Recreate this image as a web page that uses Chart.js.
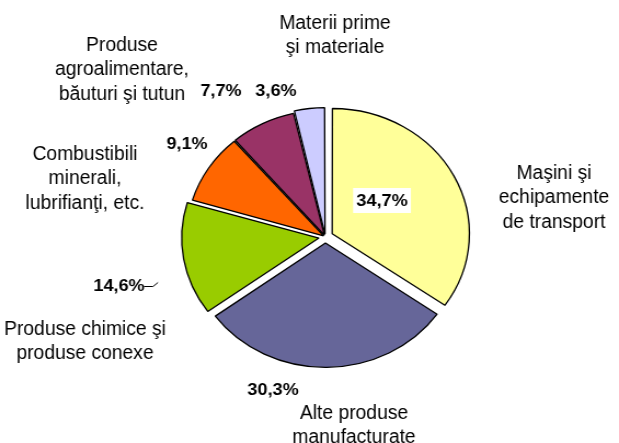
<!DOCTYPE html>
<html>
<head>
<meta charset="utf-8">
<script src="https://cdn.jsdelivr.net/npm/chart.js@4/dist/chart.umd.min.js"></script>
<style>
  html, body { margin: 0; padding: 0; background: #fff; overflow: hidden; }
  #grafic { display: block; }
</style>
</head>
<body>
<canvas id="grafic" width="565" height="443" style="width:619px;height:443px"></canvas>
<script>
// Date
const categorii = [
    ['Maşini şi', 'echipamente', 'de transport'],
    ['Alte produse', 'manufacturate'],
    ['Produse chimice şi', 'produse conexe'],
    ['Combustibili', 'minerali,', 'lubrifianţi, etc.'],
    ['Produse', 'agroalimentare,', 'băuturi şi tutun'],
    ['Materii prime', 'şi materiale']
];
const valori = [34.7, 30.3, 14.6, 9.1, 7.7, 3.6];
const culori = ['#FFFF99', '#666699', '#99CC00', '#FF6600', '#993366', '#CCCCFF'];
const explodare = [28, 24, 24, 8, 8, 12];

// pozitii etichete (in coordonatele imaginii, prima linie)
const pozNume = [[554, 173], [354, 413], [85, 329], [85, 154], [122, 45], [335, 23]];
const pozProcent = [[382, 201], [273, 390], [119, 286], [187, 144], [221, 91], [276, 91]];

// panza e intinsa pe orizontala ca in original
const SX = 619 / 565;
const ingust = 0.88; // textul din original e mai ingust

const etichete = {
    id: 'etichete',
    afterDraw(chart) {
        const ctx = chart.ctx;
        ctx.save();
        ctx.textAlign = 'center';
        ctx.textBaseline = 'middle';
        ctx.fillStyle = '#000';

        // denumiri
        ctx.font = '20px "Liberation Sans", Arial, sans-serif';
        categorii.forEach((linii, i) => {
            const [x, y] = pozNume[i];
            linii.forEach((txt, j) => {
                ctx.save();
                ctx.translate(x / SX, y + j * 24.5);
                ctx.scale(ingust, 1);
                ctx.fillText(txt, 0, 0);
                ctx.restore();
            });
        });

        // procente
        ctx.font = 'bold 16.5px "Liberation Sans", Arial, sans-serif';
        valori.forEach((v, i) => {
            const txt = v.toFixed(1).replace('.', ',') + '%';
            const [x, y] = pozProcent[i];
            if (i === 0) {
                const w = ctx.measureText(txt).width;
                ctx.fillStyle = '#fff';
                ctx.fillRect(x / SX - w / 2 - 3, y - 13, w + 6, 25);
                ctx.fillStyle = '#000';
            }
            ctx.fillText(txt, x / SX, y);
        });

        // linie mica pentru 14,6%
        ctx.strokeStyle = '#000';
        ctx.lineWidth = 1;
        ctx.beginPath();
        ctx.moveTo(144 / SX, 286.5);
        ctx.lineTo(153 / SX, 286.5);
        ctx.lineTo(158 / SX, 282.5);
        ctx.stroke();
        ctx.restore();
    }
};

new Chart(document.getElementById('grafic'), {
    type: 'pie',
    data: {
        labels: categorii.map(c => c.join(' ')),
        datasets: [{
            data: valori,
            backgroundColor: culori,
            borderColor: '#000',
            borderWidth: 1.3,
            offset: explodare,
            radius: 124
        }]
    },
    options: {
        responsive: false,
        animation: false,
        layout: { padding: { left: 40, right: 11, top: 40, bottom: 9 } },
        plugins: {
            legend: { display: false },
            tooltip: { enabled: false }
        }
    },
    plugins: [etichete]
});
</script>
</body>
</html>
